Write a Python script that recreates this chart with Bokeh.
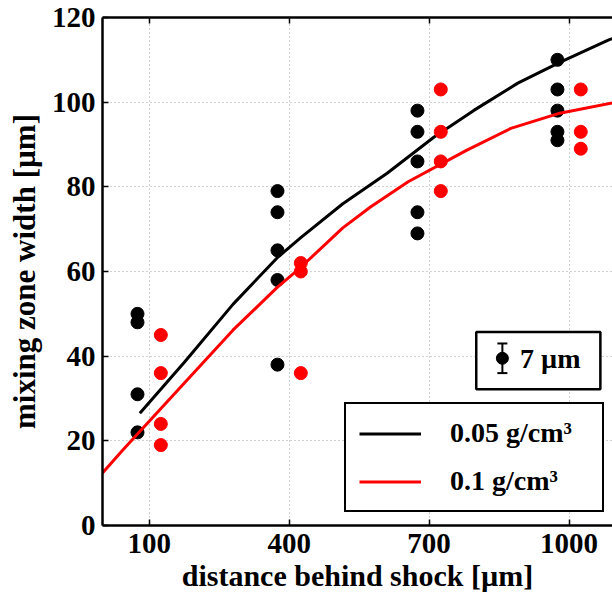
from bokeh.plotting import figure
from bokeh.models import (FixedTicker, LinearAxis, Range1d, Legend, LegendItem,
                          BoxAnnotation, Whisker, TeeHead, ColumnDataSource, Label)
from bokeh.embed import file_html
from bokeh.resources import INLINE

# ---------------- data ----------------
x_ticks = [100, 400, 700, 1000]
y_ticks = [0, 20, 40, 60, 80, 100, 120]

black_x = [75, 75, 75, 75,
           375, 375, 375, 375, 375,
           675, 675, 675, 675, 675,
           975, 975, 975, 975, 975]
black_y = [50, 48, 31, 22,
           79, 74, 65, 58, 38,
           98, 93, 86, 74, 69,
           110, 103, 98, 93, 91]

red_x = [125, 125, 125, 125,
         425, 425, 425,
         725, 725, 725, 725,
         1025, 1025, 1025]
red_y = [45, 36, 24, 19,
         62, 60, 36,
         103, 93, 86, 79,
         103, 93, 89]

line_005_x = [80, 175, 280, 375, 425, 515, 610, 710, 795, 890, 980, 1085, 1100]
line_005_y = [26.5, 38.5, 52.3, 63.3, 68, 76, 83.2, 91.7, 98, 104.5, 109.4, 114.7, 115.3]

line_01_x = [0, 45, 175, 280, 375, 425, 515, 575, 655, 780, 875, 980, 1100]
line_01_y = [12.4, 18, 33.6, 46.2, 56.3, 61, 70.3, 75.3, 81.2, 88.6, 93.8, 97.4, 100]

err_size = 7          # size of the error-bar key [µm]
err_key_x = 857       # key position (data units)
err_key_y = 39.5

label_005 = "0.05 g/cm³"
label_01 = "0.1 g/cm³"
err_label = "7 µm"
x_label = "distance behind shock [µm]"
y_label = "mixing zone width [µm]"

FONT = "Liberation Serif"
RED = "#ff0000"

# ---------------- figure ----------------
p = figure(width=612, height=603,
           x_range=Range1d(0, 1093), y_range=Range1d(0, 120),
           output_backend="svg", toolbar_location=None,
           min_border_left=102, min_border_right=0,
           min_border_top=17, min_border_bottom=78,
           outline_line_color=None, background_fill_color="white",
           border_fill_color="white")

# axes styling
for ax in (p.xaxis[0], p.yaxis[0]):
    ax.axis_line_width = 2.5
    ax.axis_line_color = "black"
    ax.axis_line_alpha = 1
    ax.major_tick_in = 6
    ax.major_tick_out = 0
    ax.major_tick_line_width = 1.5
    ax.major_tick_line_color = "black"
    ax.minor_tick_line_color = None
    ax.major_label_text_font = FONT
    ax.major_label_text_font_style = "bold"
    ax.major_label_text_font_size = "29px"
    ax.major_label_text_color = "black"
    ax.axis_label_text_font = FONT
    ax.axis_label_text_font_style = "bold"
    ax.axis_label_text_color = "black"

p.xaxis.ticker = FixedTicker(ticks=x_ticks)
p.yaxis.ticker = FixedTicker(ticks=y_ticks)
p.xaxis.axis_label = x_label
p.yaxis.axis_label = y_label
p.xaxis.axis_label_text_font_size = "30px"
p.yaxis.axis_label_text_font_size = "31px"
p.xaxis.major_label_standoff = 8
p.yaxis.major_label_standoff = 7
p.xaxis.axis_label_standoff = 3
p.yaxis.axis_label_standoff = 7

top = LinearAxis(ticker=FixedTicker(ticks=x_ticks), axis_line_width=2.5,
                 axis_line_color="black", axis_line_alpha=1,
                 major_tick_in=6, major_tick_out=0, major_tick_line_width=1.5,
                 major_tick_line_color="black",
                 minor_tick_line_color=None, major_label_text_font_size="1px",
                 major_label_text_color=None, major_label_standoff=0)
p.add_layout(top, "above")

# grid
for g in (p.xgrid[0], p.ygrid[0]):
    g.grid_line_color = "#a0a0a0"
    g.grid_line_dash = "1 3"
    g.grid_line_width = 1
p.xgrid.ticker = FixedTicker(ticks=x_ticks)
p.ygrid.ticker = FixedTicker(ticks=y_ticks)

# error-bar key box (under the glyphs, above the grid)
box = BoxAnnotation(left=801, right=1067, bottom=32.2, top=45.7,
                    fill_color="white", fill_alpha=1,
                    line_color="black", line_alpha=1, line_width=2.5,
                    level="underlay")
p.add_layout(box)

# data glyphs
p.scatter(black_x, black_y, size=13, color="black", marker="circle")
r_black = p.line(line_005_x, line_005_y, line_color="black", line_width=3)
r_red = p.line(line_01_x, line_01_y, line_color=RED, line_width=3)
p.scatter(red_x, red_y, size=13, color=RED, marker="circle")

# legend for lines
legend = Legend(items=[LegendItem(label=label_005, renderers=[r_black]),
                       LegendItem(label=label_01, renderers=[r_red])],
                location=(242, 13),
                border_line_color="black", border_line_width=2.5,
                border_line_alpha=1,
                background_fill_color="white", background_fill_alpha=1,
                padding=13, spacing=16, margin=0,
                glyph_width=62, glyph_height=31, label_height=31,
                label_standoff=29, label_width=139,
                label_text_font=FONT, label_text_font_style="bold",
                label_text_font_size="28px", label_text_color="black")
p.add_layout(legend, "center")

# error-bar key
err_src = ColumnDataSource(dict(base=[err_key_x],
                                lower=[err_key_y - err_size / 2],
                                upper=[err_key_y + err_size / 2]))
p.add_layout(Whisker(source=err_src, base="base", lower="lower", upper="upper",
                     dimension="height", line_color="black", line_width=2,
                     line_alpha=1,
                     upper_head=TeeHead(size=10, line_width=2, line_color="black"),
                     lower_head=TeeHead(size=10, line_width=2, line_color="black")))
p.scatter([err_key_x], [err_key_y], size=12, color="black", marker="circle")
p.add_layout(Label(x=err_key_x + 38, y=err_key_y, text=err_label,
                   text_font=FONT, text_font_style="bold", text_font_size="28px",
                   text_baseline="middle", text_align="left", text_color="black"))

open("out.html", "w").write(file_html(p, INLINE))
